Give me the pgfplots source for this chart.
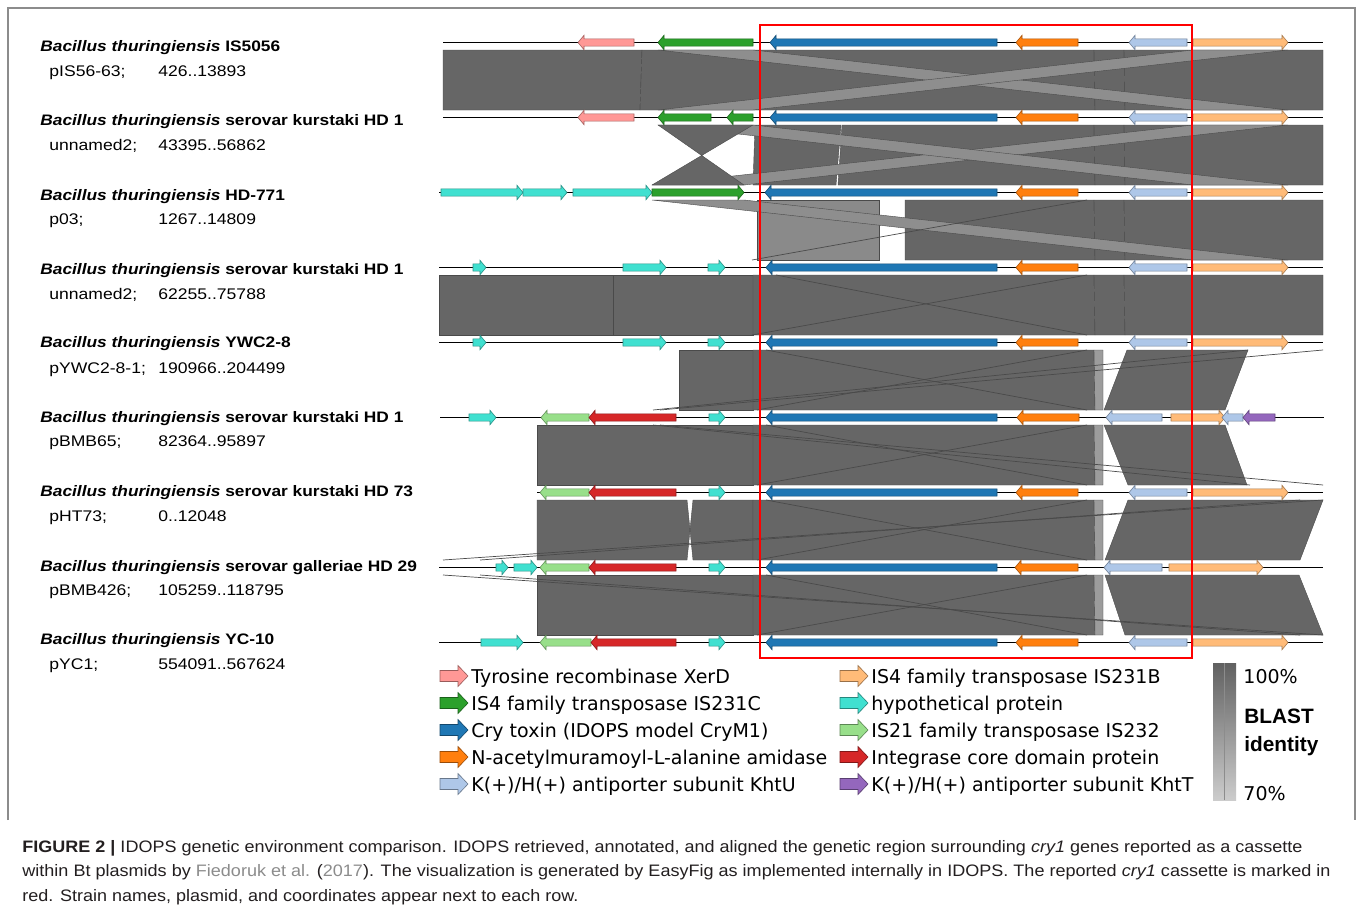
\documentclass[border=0pt]{standalone}
\usepackage{pgfplots}
\pgfplotsset{compat=1.18}
\usepackage{graphicx}
\usepackage{fontspec}
\setmainfont{Liberation Sans}
\newfontfamily\dejavu{DejaVu Sans}

\definecolor{cpink}{HTML}{FF9896}
\definecolor{cgreen}{HTML}{2CA02C}
\definecolor{cblue}{HTML}{1F77B4}
\definecolor{corange}{HTML}{FF7F0E}
\definecolor{clblue}{HTML}{AEC7E8}
\definecolor{clorange}{HTML}{FFBB78}
\definecolor{ccyan}{HTML}{40E0D0}
\definecolor{clgreen}{HTML}{98DF8A}
\definecolor{cred}{HTML}{D62728}
\definecolor{cpurple}{HTML}{9467BD}
\definecolor{bdark}{HTML}{666666}
\definecolor{blight}{HTML}{8E8E8E}
\definecolor{bmid}{HTML}{8A8A8A}
\definecolor{bstrip}{HTML}{9C9C9C}
\definecolor{bedge}{HTML}{4A4A4A}
\definecolor{framec}{HTML}{8C8C8C}
\definecolor{capgray}{HTML}{8C8C8C}
\definecolor{capblack}{HTML}{231F20}

% rightward gene: start, tip, y, colour
\newcommand{\gR}[4]{%
 \pgfmathsetmacro\gnH{#2-6}%
 \pgfmathsetmacro\gnT{#3-3.6}\pgfmathsetmacro\gnU{#3+3.6}%
 \pgfmathsetmacro\gnTT{#3-7.2}\pgfmathsetmacro\gnUU{#3+7.2}%
 \edef\gntmp{\noexpand\addplot[fill=#4,draw=#4!65!black,line width=0.3pt] coordinates {(#1,\gnT) (\gnH,\gnT) (\gnH,\gnTT) (#2,#3) (\gnH,\gnUU) (\gnH,\gnU) (#1,\gnU)} -- cycle;}%
 \gntmp}
% leftward gene: tip, end, y, colour
\newcommand{\gL}[4]{%
 \pgfmathsetmacro\gnH{#1+6}%
 \pgfmathsetmacro\gnT{#3-3.6}\pgfmathsetmacro\gnU{#3+3.6}%
 \pgfmathsetmacro\gnTT{#3-7.2}\pgfmathsetmacro\gnUU{#3+7.2}%
 \edef\gntmp{\noexpand\addplot[fill=#4,draw=#4!65!black,line width=0.3pt] coordinates {(#2,\gnT) (\gnH,\gnT) (\gnH,\gnTT) (#1,#3) (\gnH,\gnUU) (\gnH,\gnU) (#2,\gnU)} -- cycle;}%
 \gntmp}
% legend arrow: x, y, colour
\newcommand{\lgA}[3]{%
 \pgfmathsetmacro\gnA{#1+18}\pgfmathsetmacro\gnB{#1+28}%
 \pgfmathsetmacro\gnT{#2-5.5}\pgfmathsetmacro\gnU{#2+5.5}%
 \pgfmathsetmacro\gnTT{#2-10.5}\pgfmathsetmacro\gnUU{#2+10.5}%
 \edef\gntmp{\noexpand\addplot[fill=#3,draw=#3!60!black,line width=0.3pt] coordinates {(#1,\gnT) (\gnA,\gnT) (\gnA,\gnTT) (\gnB,#2) (\gnA,\gnUU) (\gnA,\gnU) (#1,\gnU)} -- cycle;}%
 \gntmp}
\newcommand{\dk}[1]{\addplot[fill=bdark,draw=bedge,line width=0.2pt] coordinates {#1} -- cycle;}
\newcommand{\lt}[1]{\addplot[fill=blight,draw=bedge,line width=0.2pt] coordinates {#1} -- cycle;}
\newcommand{\st}[1]{\addplot[fill=bstrip,draw=bedge,line width=0.2pt] coordinates {#1} -- cycle;}
\newcommand{\sg}[1]{\addplot[draw=bedge,line width=0.35pt] coordinates {#1};}
\newcommand{\trk}[3]{\addplot[draw=black,line width=0.7pt] coordinates {(#1,#3) (#2,#3)};}
\newcommand{\lab}[1]{\scalebox{1.14}[1]{#1}}
\newcommand{\rowlab}[5]{%
 \node[anchor=base west,inner sep=0pt,font=\fontsize{7.6}{9}\selectfont] at (axis cs:40,#1) {\lab{\textbf{\textit{Bacillus thuringiensis}} \textbf{#3}}};
 \node[anchor=base west,inner sep=0pt,font=\fontsize{7.7}{9}\selectfont] at (axis cs:49,#2) {\lab{#4}};
 \node[anchor=base west,inner sep=0pt,font=\fontsize{7.7}{9}\selectfont] at (axis cs:158,#2) {\lab{#5}};}

\begin{document}
\begin{tikzpicture}
\begin{axis}[
  x=0.5pt, y=0.5pt, y dir=reverse,
  xmin=0, xmax=1358, ymin=0, ymax=916,
  hide axis, clip=false, scale only axis]
% background and frame
\addplot[fill=white,draw=none] coordinates {(0,0) (1358,0) (1358,916) (0,916)} -- cycle;
\addplot[draw=framec,line width=0.75pt] coordinates {(8,820) (8,8) (1355,8) (1355,820)};

% ---- band 1 (50-110)
\dk{(443,50) (642,50) (640,110) (443,110)}
\dk{(642,50) (1094,50) (1095,110) (640,110)}
\dk{(1094,50) (1124,50) (1125,110) (1095,110)}
\dk{(1124,50) (1323,50) (1323,110) (1125,110)}
\lt{(658,50) (753,50) (1288,110) (1193,110)}
\lt{(658,110) (753,110) (1288,50) (1193,50)}
% ---- band 2 (125-185)
\dk{(755,125) (841,125) (836,185) (753,185)}
\dk{(842,125) (1094,125) (1095,185) (838,185)}
\dk{(1094,125) (1124,125) (1125,185) (1095,185)}
\dk{(1124,125) (1323,125) (1323,185) (1125,185)}
\lt{(652,185) (744,185) (1288,125) (1193,125)}
\lt{(658,125) (753,125) (1288,185) (1193,185)}
\dk{(658,125) (744,185) (652,185) (753,125)}
% ---- band 3 (200-260)
\addplot[fill=bmid,draw=bedge,line width=0.2pt] coordinates {(757,200) (879,200) (879,260) (757,260)} -- cycle;
\dk{(905,200) (1094,200) (1095,260) (905,260)}
\dk{(1094,200) (1124,200) (1125,260) (1095,260)}
\dk{(1124,200) (1323,200) (1323,260) (1125,260)}
\lt{(652,200) (744,200) (1288,260) (1193,260)}
\sg{(752,260) (1087,200)}
% ---- band 4 (275-335)
\dk{(439,275) (613,275) (613,335) (439,335)}
\dk{(613,275) (753,275) (753,335) (613,335)}
\dk{(753,275) (1094,275) (1095,335) (753,335)}
\dk{(1094,275) (1124,275) (1125,335) (1095,335)}
\dk{(1124,275) (1323,275) (1323,335) (1125,335)}
\sg{(776,275) (1087,335)}
\sg{(752,335) (1087,275)}
% ---- band 5 (350-410)
\dk{(679,350) (753,350) (753,410) (679,410)}
\dk{(753,350) (1094,350) (1095,410) (753,410)}
\st{(1094,350) (1103,350) (1103,410) (1095,410)}
\dk{(1127,350) (1248,350) (1225,410) (1104,410)}
\sg{(766,350) (1087,410)}
\sg{(757,410) (1087,350)}
\sg{(653,410) (1248,350)}
\sg{(660,410) (1323,350)}
% ---- band 6 (425-485)
\dk{(537,425) (753,425) (753,485) (537,485)}
\dk{(753,425) (1094,425) (1095,485) (753,485)}
\st{(1094,425) (1103,425) (1103,485) (1095,485)}
\dk{(1104,425) (1225,425) (1247,485) (1128,485)}
\sg{(766,425) (1087,485)}
\sg{(757,485) (1087,425)}
\sg{(653,425) (1250,485)}
\sg{(660,425) (1323,485)}
% ---- band 7 (500-560)
\dk{(537,500) (687,500) (690,530) (687,560) (537,560)}
\dk{(693,500) (753,500) (753,560) (693,560) (690,530)}
\dk{(753,500) (1094,500) (1095,560) (753,560)}
\st{(1094,500) (1103,500) (1103,560) (1095,560)}
\dk{(1128,500) (1323,500) (1300,560) (1105,560)}
\sg{(443,560) (1323,500)}
\sg{(480,560) (1300,500)}
\sg{(766,500) (1087,560)}
\sg{(757,560) (1087,500)}
% ---- band 8 (575-635)
\dk{(537,575) (753,575) (753,635) (537,635)}
\dk{(753,575) (1094,575) (1095,635) (753,635)}
\st{(1094,575) (1103,575) (1103,635) (1095,635)}
\dk{(1105,575) (1299,575) (1323,635) (1125,635)}
\sg{(443,575) (1323,635)}
\sg{(480,575) (1300,635)}
\sg{(766,575) (1087,635)}
\sg{(757,635) (1087,575)}

% ---- track lines
\trk{443}{1323}{42.5}
\trk{443}{1323}{117.5}
\trk{439}{1323}{192.5}
\trk{439}{1323}{267.5}
\trk{439}{1323}{342.5}
\trk{440}{1324}{417.5}
\trk{537}{1323}{492.5}
\trk{439}{1323}{567.5}
\trk{439}{1323}{642.5}

% ---- genes
% track 1
\gL{578}{634}{42.5}{cpink}
\gL{658}{753}{42.5}{cgreen}
\gL{770}{997}{42.5}{cblue}
\gL{1016}{1078}{42.5}{corange}
\gL{1129}{1187}{42.5}{clblue}
\gR{1193}{1288}{42.5}{clorange}
% track 2
\gL{578}{634}{117.5}{cpink}
\gL{658}{711}{117.5}{cgreen}
\gL{727}{753}{117.5}{cgreen}
\gL{770}{997}{117.5}{cblue}
\gL{1016}{1078}{117.5}{corange}
\gL{1129}{1187}{117.5}{clblue}
\gR{1193}{1288}{117.5}{clorange}
% track 3
\gR{441}{523}{192.5}{ccyan}
\gR{523}{567}{192.5}{ccyan}
\gR{573}{652}{192.5}{ccyan}
\gR{652}{744}{192.5}{cgreen}
\gL{765}{997}{192.5}{cblue}
\gL{1016}{1078}{192.5}{corange}
\gL{1129}{1187}{192.5}{clblue}
\gR{1193}{1288}{192.5}{clorange}
% track 4
\gR{473}{486}{267.5}{ccyan}
\gR{623}{666}{267.5}{ccyan}
\gR{708}{725}{267.5}{ccyan}
\gL{766}{997}{267.5}{cblue}
\gL{1016}{1078}{267.5}{corange}
\gL{1129}{1187}{267.5}{clblue}
\gR{1193}{1288}{267.5}{clorange}
% track 5
\gR{473}{486}{342.5}{ccyan}
\gR{623}{666}{342.5}{ccyan}
\gR{708}{725}{342.5}{ccyan}
\gL{766}{997}{342.5}{cblue}
\gL{1016}{1078}{342.5}{corange}
\gL{1129}{1187}{342.5}{clblue}
\gR{1193}{1288}{342.5}{clorange}
% track 6
\gR{469}{496}{417.5}{ccyan}
\gL{541}{589}{417.5}{clgreen}
\gL{589}{676}{417.5}{cred}
\gR{709}{725}{417.5}{ccyan}
\gL{766}{997}{417.5}{cblue}
\gL{1017}{1079}{417.5}{corange}
\gL{1106}{1162}{417.5}{clblue}
\gR{1171}{1225}{417.5}{clorange}
\gL{1222}{1243}{417.5}{clblue}
\gL{1243}{1275}{417.5}{cpurple}
% track 7
\gL{540}{589}{492.5}{clgreen}
\gL{589}{676}{492.5}{cred}
\gR{709}{725}{492.5}{ccyan}
\gL{766}{997}{492.5}{cblue}
\gL{1016}{1078}{492.5}{corange}
\gL{1129}{1187}{492.5}{clblue}
\gR{1193}{1288}{492.5}{clorange}
% track 8
\gR{496}{508}{567.5}{ccyan}
\gR{514}{537}{567.5}{ccyan}
\gL{540}{589}{567.5}{clgreen}
\gL{589}{676}{567.5}{cred}
\gR{709}{725}{567.5}{ccyan}
\gL{766}{997}{567.5}{cblue}
\gL{1015}{1078}{567.5}{corange}
\gL{1104}{1162}{567.5}{clblue}
\gR{1169}{1263}{567.5}{clorange}
% track 9
\gR{481}{523}{642.5}{ccyan}
\gL{540}{591}{642.5}{clgreen}
\gL{591}{676}{642.5}{cred}
\gR{709}{725}{642.5}{ccyan}
\gL{766}{997}{642.5}{cblue}
\gL{1016}{1078}{642.5}{corange}
\gL{1129}{1187}{642.5}{clblue}
\gR{1193}{1288}{642.5}{clorange}

% ---- red cassette box
\addplot[draw=red,line width=1pt] coordinates {(760,25) (1192,25) (1192,658) (760,658)} -- cycle;

% ---- legend arrows
\lgA{440}{676}{cpink}
\lgA{440}{703}{cgreen}
\lgA{440}{730}{cblue}
\lgA{440}{757}{corange}
\lgA{440}{784}{clblue}
\lgA{840}{676}{clorange}
\lgA{840}{703}{ccyan}
\lgA{840}{730}{clgreen}
\lgA{840}{757}{cred}
\lgA{840}{784}{cpurple}

% ---- identity colour bar
\addplot[draw=none,top color=black!62,bottom color=black!20] coordinates {(1213,663) (1236,663) (1236,800) (1213,800)} -- cycle;
\addplot[draw=black!45,line width=0.3pt] coordinates {(1224.5,663) (1224.5,800)};

% ---- legend text
\begin{scope}[every node/.style={anchor=base west,inner sep=0pt,font=\dejavu\fontsize{9.5}{11}\selectfont}]
\node at (axis cs:471,683) {Tyrosine recombinase XerD};
\node at (axis cs:471,710) {IS4 family transposase IS231C};
\node at (axis cs:471,737) {Cry toxin (IDOPS model CryM1)};
\node at (axis cs:471,764) {N-acetylmuramoyl-L-alanine amidase};
\node at (axis cs:471,791) {K(+)/H(+) antiporter subunit KhtU};
\node at (axis cs:871,683) {IS4 family transposase IS231B};
\node at (axis cs:871,710) {hypothetical protein};
\node at (axis cs:871,737) {IS21 family transposase IS232};
\node at (axis cs:871,764) {Integrase core domain protein};
\node at (axis cs:871,791) {K(+)/H(+) antiporter subunit KhtT};
\node at (axis cs:1243,683) {100\%};
\node at (axis cs:1243,800) {70\%};
\end{scope}
\node[anchor=base west,inner sep=0pt,font=\bfseries\fontsize{10.4}{12}\selectfont] at (axis cs:1244,723.5) {BLAST};
\node[anchor=base west,inner sep=0pt,font=\bfseries\fontsize{10.4}{12}\selectfont] at (axis cs:1244,751) {identity};

% ---- row labels
\rowlab{51}{76}{IS5056}{pIS56-63;}{426..13893}
\rowlab{125}{150}{serovar kurstaki HD 1}{unnamed2;}{43395..56862}
\rowlab{200}{224}{HD-771}{p03;}{1267..14809}
\rowlab{274}{299}{serovar kurstaki HD 1}{unnamed2;}{62255..75788}
\rowlab{347}{373}{YWC2-8}{pYWC2-8-1;}{190966..204499}
\rowlab{422}{446}{serovar kurstaki HD 1}{pBMB65;}{82364..95897}
\rowlab{496}{521}{serovar kurstaki HD 73}{pHT73;}{0..12048}
\rowlab{571}{595}{serovar galleriae HD 29}{pBMB426;}{105259..118795}
\rowlab{644}{669}{YC-10}{pYC1;}{554091..567624}

% ---- caption
\begin{scope}[every node/.style={anchor=base west,inner sep=0pt,text=capblack,font=\fontsize{8.3}{10}\selectfont}]
\node at (axis cs:22,852.5) {\resizebox{640pt}{\height}{\textbf{FIGURE 2 |} IDOPS genetic environment comparison. IDOPS retrieved, annotated, and aligned the genetic region surrounding \textit{cry1} genes reported as a cassette}};
\node at (axis cs:22,876.5) {\resizebox{654pt}{\height}{within Bt plasmids by \textcolor{capgray}{Fiedoruk et al.} (\textcolor{capgray}{2017}). The visualization is generated by EasyFig as implemented internally in IDOPS. The reported \textit{cry1} cassette is marked in}};
\node at (axis cs:22,901.5) {\resizebox{278pt}{\height}{red. Strain names, plasmid, and coordinates appear next to each row.}};
\end{scope}
\end{axis}
\end{tikzpicture}
\end{document}
